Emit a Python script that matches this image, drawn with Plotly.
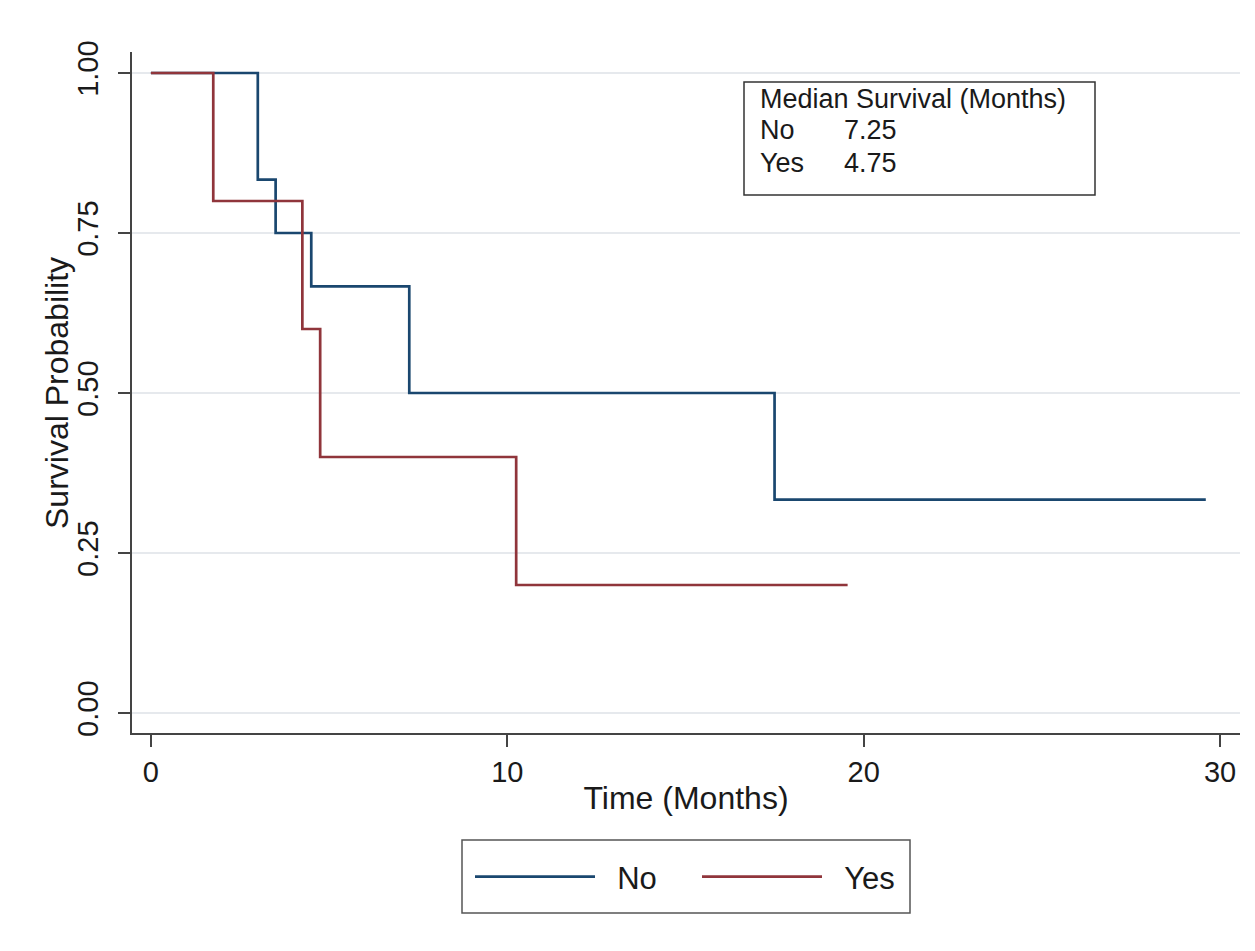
import plotly.graph_objects as go

# Kaplan-Meier step data
no_time = [0, 3.0, 3.5, 4.5, 7.25, 17.5, 29.6]
no_surv = [1.0, 0.8333, 0.75, 0.6667, 0.5, 0.3333, 0.3333]
yes_time = [0, 1.75, 4.25, 4.75, 10.25, 19.55]
yes_surv = [1.0, 0.8, 0.6, 0.4, 0.2, 0.2]

series_names = ["No", "Yes"]
series_colors = ["#1a476f", "#90353b"]

x_ticks = [0, 10, 20, 30]
y_ticks = [0.0, 0.25, 0.5, 0.75, 1.0]
y_ticklabels = ["0.00", "0.25", "0.50", "0.75", "1.00"]

x_title = "Time (Months)"
y_title = "Survival Probability"
median_title = "Median Survival (Months)"
median_groups = ["No", "Yes"]
median_values = ["7.25", "4.75"]

FONT = "Liberation Sans, Arial, sans-serif"
TXT = "#1a1a1a"

# the page body adds an 8px offset; work in reference-screen pixels
OFF = 8
W, H = 1255 - OFF, 951 - OFF
L, T = 132 - OFF, 52 - OFF
R = W - (1240 - OFF)
B = H - (733 - OFF)
pw = W - L - R
ph = H - T - B


def px_x(px):
    return (px - OFF - L) / pw


def px_y(py):
    return (H - B - (py - OFF)) / ph


fig = go.Figure()
for name, xs, ys, col in zip(series_names, [no_time, yes_time], [no_surv, yes_surv], series_colors):
    fig.add_trace(go.Scatter(x=xs, y=ys, mode="lines", name="\u00a0\u00a0" + name,
                             line=dict(shape="hv", color=col, width=2.7)))

fig.update_layout(
    width=W, height=H,
    margin=dict(l=L, r=R, t=T, b=B, autoexpand=False),
    paper_bgcolor="white", plot_bgcolor="white",
    font=dict(family=FONT, color=TXT, size=28),
    showlegend=True,
    legend=dict(orientation="h", x=px_x(470), xanchor="left", y=px_y(877), yanchor="middle",
                borderwidth=0, bgcolor="rgba(0,0,0,0)",
                font=dict(size=31, family=FONT, color=TXT),
                itemwidth=120, entrywidth=92, entrywidthmode="pixels", itemclick=False),
    xaxis=dict(range=[-0.53, 30.56], tickvals=x_ticks, showgrid=False, zeroline=False,
               showline=True, linecolor="#444444", linewidth=1.5,
               ticks="outside", ticklen=12, tickcolor="#444444", tickwidth=1.5,
               tickfont=dict(size=29, family=FONT, color=TXT),
               title=dict(text=x_title, font=dict(size=32, family=FONT, color=TXT), standoff=0)),
    yaxis=dict(range=[-0.03125, 1.0328], tickvals=y_ticks, ticktext=y_ticklabels, tickangle=-90,
               showgrid=True, gridcolor="#e6e9ed", gridwidth=2, zeroline=False,
               showline=True, linecolor="#444444", linewidth=1.5,
               ticks="outside", ticklen=12, tickcolor="#444444", tickwidth=1.5,
               ticklabelstandoff=9,
               tickfont=dict(size=29, family=FONT, color=TXT)),
)

# y-axis title
fig.add_annotation(xref="paper", yref="paper", x=px_x(57), y=px_y(393), text=y_title,
                   textangle=-90, showarrow=False, xanchor="center", yanchor="middle",
                   font=dict(size=32, family=FONT, color=TXT))

# legend frame
fig.add_shape(type="rect", xref="paper", yref="paper",
              x0=px_x(462), x1=px_x(910), y0=px_y(913), y1=px_y(840),
              line=dict(color="#555555", width=1.5), fillcolor="rgba(0,0,0,0)")

# Median survival box
fig.add_shape(type="rect", xref="paper", yref="paper",
              x0=px_x(744), x1=px_x(1095), y0=px_y(195), y1=px_y(82),
              line=dict(color="#333333", width=1.5), fillcolor="white", layer="above")
fig.add_annotation(xref="paper", yref="paper", x=px_x(758), y=px_y(99), text=median_title,
                   showarrow=False, xanchor="left", yanchor="middle", font=dict(size=27, family=FONT, color=TXT))
for i, (g, v) in enumerate(zip(median_groups, median_values)):
    yy = [130, 163][i]
    fig.add_annotation(xref="paper", yref="paper", x=px_x(758), y=px_y(yy), text=g,
                       showarrow=False, xanchor="left", yanchor="middle", font=dict(size=27, family=FONT, color=TXT))
    fig.add_annotation(xref="paper", yref="paper", x=px_x(899), y=px_y(yy), text=v,
                       showarrow=False, xanchor="right", yanchor="middle", font=dict(size=27, family=FONT, color=TXT))

fig.write_html("out.html")
